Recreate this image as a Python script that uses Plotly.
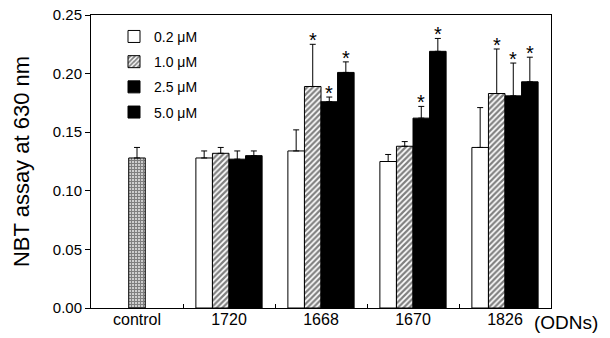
import plotly.graph_objects as go

# ---- data ----
groups = ["control", "1720", "1668", "1670", "1826"]
odn_groups = ["1720", "1668", "1670", "1826"]
series_names = ["0.2 \u03bcM", "1.0 \u03bcM", "2.5 \u03bcM", "5.0 \u03bcM"]

control_value = [0.128]
control_err = [0.009]

values_02 = [0.128, 0.134, 0.125, 0.137]
values_10 = [0.132, 0.189, 0.138, 0.183]
values_25 = [0.127, 0.176, 0.162, 0.181]
values_50 = [0.130, 0.201, 0.219, 0.193]

err_02 = [0.006, 0.018, 0.006, 0.034]
err_10 = [0.005, 0.036, 0.004, 0.038]
err_25 = [0.007, 0.004, 0.010, 0.028]
err_50 = [0.004, 0.009, 0.011, 0.021]

star_02 = [False, False, False, False]
star_10 = [False, True, False, True]
star_25 = [False, True, True, True]
star_50 = [False, True, True, True]

y_ticks = [0.00, 0.05, 0.10, 0.15, 0.20, 0.25]

# ---- styling ----
FONT = "Liberation Sans, Arial, sans-serif"
BAR_W = 0.18
patterns = [
    dict(shape=""),
    dict(shape="/", size=4, solidity=0.55, fgcolor="black", bgcolor="white"),
    dict(shape=""),
    dict(shape=""),
]
fills = ["white", "white", "black", "black"]

all_vals = [values_02, values_10, values_25, values_50]
all_errs = [err_02, err_10, err_25, err_50]
all_stars = [star_02, star_10, star_25, star_50]

fig = go.Figure()

# control bar (on the overlaid label axis, same range)
fig.add_trace(go.Bar(
    x=[groups.index("control")], y=control_value, width=BAR_W, xaxis="x2",
    marker=dict(color="white", line=dict(color="black", width=1),
                pattern=dict(shape="+", size=3, solidity=0.7, fgcolor="black", bgcolor="white")),
    error_y=dict(type="data", symmetric=False, array=control_err, arrayminus=[0],
                 color="black", thickness=1, width=3),
    showlegend=False,
))

group_idx = [groups.index(g) for g in odn_groups]
star_annotations = []
for i, name in enumerate(series_names):
    xs = [g + (i - 1.5) * BAR_W for g in group_idx]
    fig.add_trace(go.Bar(
        x=xs, y=all_vals[i], width=BAR_W, name=name,
        marker=dict(color=fills[i], line=dict(color="black", width=1), pattern=patterns[i]),
        error_y=dict(type="data", symmetric=False, array=all_errs[i],
                     arrayminus=[0] * len(xs), color="black", thickness=1, width=3),
        legendgroup=name,
    ))
    for x, v, e, s in zip(xs, all_vals[i], all_errs[i], all_stars[i]):
        if s:
            star_annotations.append(dict(
                x=x, y=v + e, xref="x", yref="y", text="*", showarrow=False,
                xanchor="center", yanchor="middle", yshift=4,
                font=dict(size=20, color="black", family=FONT),
            ))

boundaries = [i + 0.5 for i in range(len(groups) - 1)]

fig.update_layout(
    width=610, height=338,
    margin=dict(l=91, r=59, t=15, b=30, autoexpand=False),
    paper_bgcolor="white", plot_bgcolor="white",
    barmode="overlay",
    font=dict(family=FONT, color="black"),
    legend=dict(x=0.05, y=0.98, xanchor="left", yanchor="top",
                font=dict(size=14), tracegroupgap=4, bgcolor="rgba(0,0,0,0)"),
    xaxis=dict(
        range=[-0.5, 4.5], tickmode="array", automargin=False,
        tickvals=boundaries, ticktext=[""] * len(boundaries),
        ticks="inside", ticklen=4, tickcolor="black", tickwidth=1,
        showline=True, linecolor="black", linewidth=1, mirror=True,
        showgrid=False, zeroline=False,
    ),
    xaxis2=dict(
        overlaying="x", anchor="y", side="bottom", range=[-0.5, 4.5],
        tickmode="array", tickvals=list(range(len(groups))), ticktext=groups,
        ticks="", tickfont=dict(size=16), automargin=False,
        showline=False, showgrid=False, zeroline=False,
    ),
    yaxis=dict(
        range=[0, 0.25], tickmode="array", tickvals=y_ticks, tickformat=".2f",
        automargin=False,
        ticks="outside", ticklen=5, tickcolor="black", tickfont=dict(size=15),
        showline=True, linecolor="black", linewidth=1, mirror=True,
        showgrid=False, zeroline=False,
        title=dict(text="NBT assay at 630 nm", font=dict(size=22), standoff=17),
    ),
    annotations=star_annotations + [dict(
        text="(ODNs)", xref="paper", yref="paper", x=0.958, y=-0.05,
        xanchor="left", yanchor="middle", showarrow=False, font=dict(size=19),
    )],
)

fig.write_html("out.html", post_script="document.body.style.margin='0';",
               config={"displayModeBar": False})
